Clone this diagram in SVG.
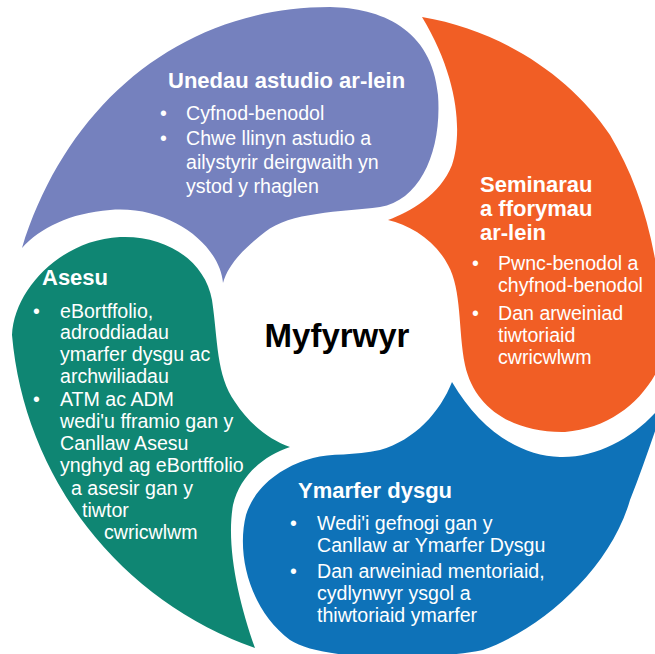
<svg xmlns="http://www.w3.org/2000/svg" width="655" height="654" viewBox="0 0 655 654">
<style>
  .t { font-family: "Liberation Sans", Arial, sans-serif; fill: #ffffff; font-size: 19.6px; }
  .h { font-family: "Liberation Sans", Arial, sans-serif; fill: #ffffff; font-size: 22px; font-weight: bold; }
  .c { font-family: "Liberation Sans", Arial, sans-serif; fill: #000000; font-size: 33px; font-weight: bold; }
</style>
<rect width="655" height="654" fill="#ffffff"/>

<g id="unedau">
  <path fill="#7581BE" d="M 22,248 C 66,105 180,7 330,7 C 380,8 432,28 438,95 C 442,150 421,200 380,207 C 340,212 290,212 265,232 C 243,249 228,265 223,283 C 220,245 170,205 110,210 C 70,213 40,228 22,248 Z"/>
  <text class="h" x="168" y="88">Unedau astudio ar-lein</text>
  <text class="t" x="160" y="120">•</text>
  <text class="t" x="186" y="120">Cyfnod-benodol</text>
  <text class="t" x="160" y="145">•</text>
  <text class="t" x="186" y="145">Chwe llinyn astudio a</text>
  <text class="t" x="186" y="169">ailystyrir deirgwaith yn</text>
  <text class="t" x="186" y="193">ystod y rhaglen</text>
</g>

<g id="seminarau">
  <path fill="#F15E25" d="M 422,17 C 500,30 570,75 610,135 C 640,185 660,250 662,330 L 664,355 C 650,395 615,428 565,432 C 515,433 475,410 465,365 C 458,330 462,290 448,265 C 435,240 410,225 388,220 C 410,212 440,195 452,165 C 462,135 460,80 422,17 Z"/>
  <text class="h" x="480" y="192">Seminarau</text>
  <text class="h" x="480" y="216">a fforymau</text>
  <text class="h" x="480" y="240">ar-lein</text>
  <text class="t" x="472" y="270">•</text>
  <text class="t" x="498" y="270">Pwnc-benodol a</text>
  <text class="t" x="498" y="292">chyfnod-benodol</text>
  <text class="t" x="472" y="320">•</text>
  <text class="t" x="498" y="320">Dan arweiniad</text>
  <text class="t" x="498" y="342">tiwtoriaid</text>
  <text class="t" x="498" y="364">cwricwlwm</text>
</g>

<g id="ymarfer">
  <path fill="#0E72B8" d="M 452,382 C 440,412 415,440 380,450 C 355,456 330,453 313,458 C 285,465 255,485 246,515 C 236,555 250,610 290,640 C 320,660 420,662 483,650 C 540,630 610,570 630,500 C 642,470 652,440 664,405 L 655,413 C 630,440 595,458 560,457 C 520,456 480,430 452,382 Z"/>
  <text class="h" x="298" y="498">Ymarfer dysgu</text>
  <text class="t" x="290" y="530">•</text>
  <text class="t" x="317" y="530">Wedi'i gefnogi gan y</text>
  <text class="t" x="317" y="552">Canllaw ar Ymarfer Dysgu</text>
  <text class="t" x="290" y="578">•</text>
  <text class="t" x="317" y="578">Dan arweiniad mentoriaid,</text>
  <text class="t" x="317" y="600">cydlynwyr ysgol a</text>
  <text class="t" x="317" y="622">thiwtoriaid ymarfer</text>
</g>

<g id="asesu">
  <path fill="#0F8673" d="M 12,335 C 14,290 60,240 120,237 C 165,235 205,260 212,300 C 218,340 216,375 235,402 C 250,425 270,440 290,447 C 265,455 240,475 233,505 C 226,545 238,600 255,648 A 365 365 0 0 1 12,335 Z"/>
  <text class="h" x="42" y="285">Asesu</text>
  <text class="t" x="33" y="318">•</text>
  <text class="t" x="60" y="318">eBortffolio,</text>
  <text class="t" x="60" y="339">adroddiadau</text>
  <text class="t" x="60" y="361">ymarfer dysgu ac</text>
  <text class="t" x="60" y="383">archwiliadau</text>
  <text class="t" x="33" y="406">•</text>
  <text class="t" x="60" y="406">ATM ac ADM</text>
  <text class="t" x="60" y="428">wedi'u fframio gan y</text>
  <text class="t" x="60" y="450">Canllaw Asesu</text>
  <text class="t" x="60" y="472">ynghyd ag eBortffolio</text>
  <text class="t" x="71" y="495">a asesir gan y</text>
  <text class="t" x="82" y="517">tiwtor</text>
  <text class="t" x="104" y="539">cwricwlwm</text>
</g>

<g id="myfyrwyr">
  <text class="c" x="337" y="347" text-anchor="middle">Myfyrwyr</text>
</g>
</svg>
